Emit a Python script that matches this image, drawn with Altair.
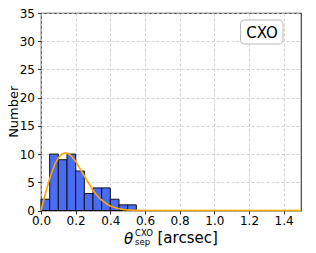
import altair as alt
import pandas as pd

# Histogram bins (left edges, width 0.05 arcsec) and counts
bin_left = [0.00, 0.05, 0.10, 0.15, 0.20, 0.25, 0.30, 0.35, 0.40, 0.45, 0.50]
counts = [2, 10, 9, 10, 7, 3, 4, 4, 2, 1, 1]
bin_width = 0.05

# Fitted curve
curve_x = [0.00, 0.02, 0.04, 0.06, 0.08, 0.10, 0.12, 0.14, 0.16, 0.18, 0.20, 0.22,
           0.24, 0.26, 0.28, 0.30, 0.32, 0.34, 0.36, 0.38, 0.40, 0.44, 0.48, 0.52,
           0.56, 0.60, 0.80, 1.00, 1.20, 1.50]
curve_y = [0.0, 2.4, 4.6, 6.6, 8.2, 9.3, 10.0, 10.2, 10.0, 9.5, 8.7, 7.7,
           6.6, 5.6, 4.6, 3.6, 2.8, 2.1, 1.6, 1.15, 0.8, 0.4, 0.16, 0.06,
           0.02, 0.0, 0.0, 0.0, 0.0, 0.0]

x_ticks = [0.0, 0.2, 0.4, 0.6, 0.8, 1.0, 1.2, 1.4]
y_ticks = [0, 5, 10, 15, 20, 25, 30, 35]
label_text = "CXO"

hist = pd.DataFrame({
    "x0": bin_left,
    "x1": [b + bin_width for b in bin_left],
    "n": counts,
})
curve = pd.DataFrame({"x": curve_x, "y": curve_y})

W, H = 260, 197.5
FONT = "DejaVu Sans"

xs = alt.Scale(domain=[0, 1.5], nice=False, zero=False)
ys = alt.Scale(domain=[0, 35], nice=False)

x_axis = alt.Axis(values=x_ticks, format=".1f", title=None, grid=True,
                  gridDash=[3, 2], gridColor="#c8c8c8", gridWidth=0.8,
                  tickSize=3.5, tickColor="#333", domain=False,
                  labelOverlap=False, labelFlush=False,
                  labelFont=FONT, labelFontSize=12, labelColor="#000", labelPadding=1.5)
y_axis = alt.Axis(values=y_ticks, format="d", title=None, grid=True,
                  gridDash=[3, 2], gridColor="#c8c8c8", gridWidth=0.8,
                  tickSize=3.5, tickColor="#333", domain=False,
                  labelOverlap=False, labelFlush=False,
                  labelFont=FONT, labelFontSize=12, labelColor="#000", labelPadding=3)

bars = alt.Chart(hist).mark_rect(color="#4a6cf5", stroke="#111", strokeWidth=1).encode(
    x=alt.X("x0:Q", scale=xs, axis=x_axis),
    x2="x1:Q",
    y=alt.Y("n:Q", scale=ys, axis=y_axis),
    y2=alt.datum(0),
)

line = alt.Chart(curve).mark_line(color="#ffa500", strokeWidth=1.6).encode(
    x=alt.X("x:Q", scale=xs, axis=x_axis),
    y=alt.Y("y:Q", scale=ys, axis=y_axis),
)

one = pd.DataFrame({"a": [0]})

ytitle = alt.Chart(one).mark_text(text="Number", font=FONT, fontSize=13, angle=270,
                                  color="#000", align="center", baseline="middle").encode(
    x=alt.value(-27), y=alt.value(H / 2))

box = alt.Chart(one).mark_rect(fill="white", stroke="#bbbbbb", strokeWidth=1,
                               cornerRadius=4).encode(
    x=alt.value(199.5), x2=alt.value(242), y=alt.value(7), y2=alt.value(31))
box_text = alt.Chart(one).mark_text(text=label_text, font=FONT, fontSize=15,
                                    color="#000", align="center", baseline="middle").encode(
    x=alt.value(221), y=alt.value(19.5))

theta = alt.Chart(one).mark_text(text="θ", font=FONT, fontSize=15, fontStyle="italic",
                                 color="#000", align="left", baseline="alphabetic").encode(
    x=alt.value(83), y=alt.value(230.5))
sup = alt.Chart(one).mark_text(text="CXO", font=FONT, fontSize=8.5,
                               color="#000", align="left", baseline="alphabetic").encode(
    x=alt.value(94), y=alt.value(223))
sub = alt.Chart(one).mark_text(text="sep", font=FONT, fontSize=8.5,
                               color="#000", align="left", baseline="alphabetic").encode(
    x=alt.value(94), y=alt.value(232))
unit = alt.Chart(one).mark_text(text="[arcsec]", font=FONT, fontSize=15,
                                color="#000", align="left", baseline="alphabetic").encode(
    x=alt.value(116.5), y=alt.value(230))

chart = alt.layer(bars, line, ytitle, box, box_text, theta, sup, sub, unit).properties(
    width=W, height=H,
    autosize=alt.AutoSizeParams(type="none"),
    padding={"left": 33, "top": 5, "right": 7, "bottom": 40},
    background="white",
).configure_view(stroke="#444", strokeWidth=1.2)

chart.save("out.html", embed_options={"renderer": "svg", "actions": False})
